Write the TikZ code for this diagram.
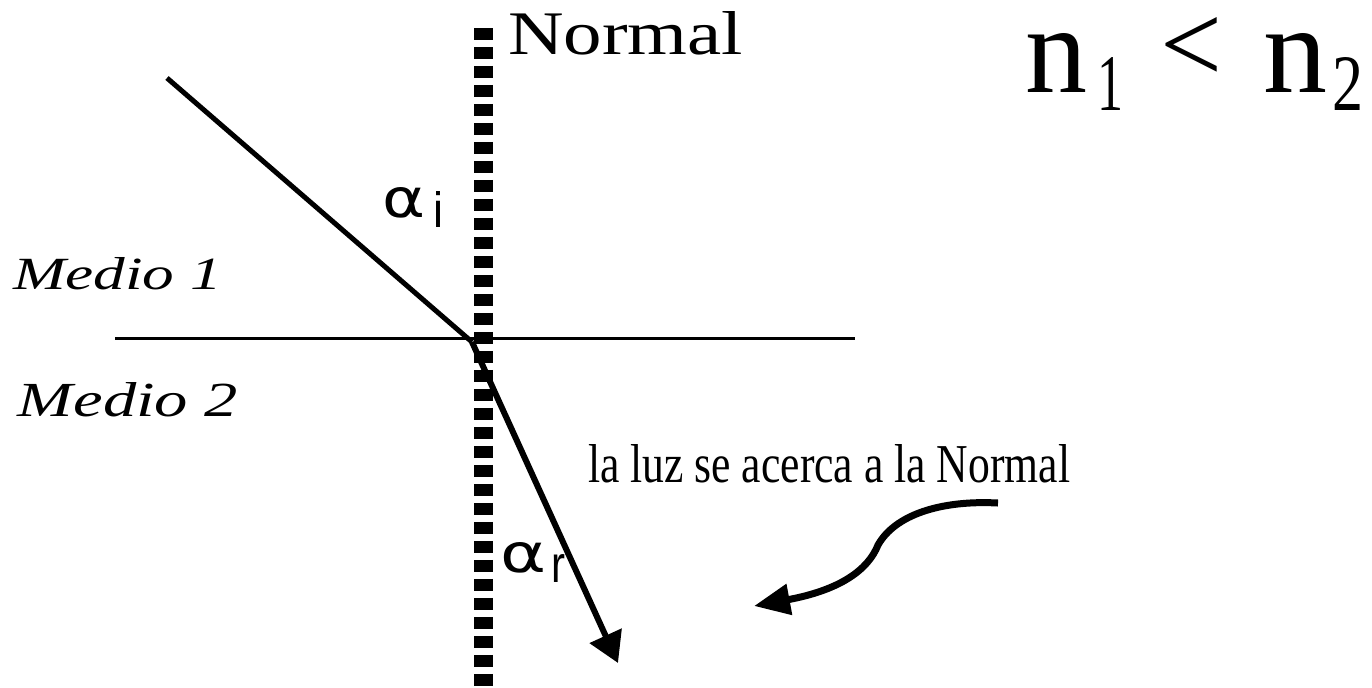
\documentclass[tikz,border=0pt]{standalone}
\usepackage{fontspec}
\setmainfont{Liberation Serif}
\newfontfamily\greekfont{DejaVu Sans}
\newfontfamily\sansfont{Liberation Sans}
\usetikzlibrary{arrows.meta}
\newlength\pxu
\setlength\pxu{0.02cm}
\newcommand\fitbox[3]{\resizebox{#1\pxu}{#2\pxu}{#3}}
\tikzset{
  lbl/.style={inner sep=0pt, outer sep=0pt, anchor=south west},
  normalline/.style={line width=0.38cm, dash pattern=on 0.24cm off 0.14cm, line cap=butt},
  surface/.style={line width=0.06cm},
  ray/.style={line width=0.1cm},
  refr/.style={line width=0.12cm, -{Triangle[length=0.6cm, width=0.68cm]}},
  curvearrow/.style={line width=0.14cm, -{Triangle[length=0.72cm, width=0.6cm]}}
}
\begin{document}
\begin{tikzpicture}[x=0.02cm, y=-0.02cm]
\useasboundingbox (0,0) rectangle (1372,687);
% coordinates
\coordinate (ntop) at (483,28);
\coordinate (nbot) at (483,687);
\coordinate (sl) at (115,338);
\coordinate (sr) at (855,338);
\coordinate (src) at (167,78);
\coordinate (O) at (472,342);
\coordinate (tip) at (618,663);
\coordinate (cstart) at (998,503);
\coordinate (ctip) at (754,606);
% normal
\draw[normalline] (ntop) -- (nbot);
% surface
\draw[surface] (sl) -- (sr);
% rays
\draw[ray] (src) -- (O);
\draw[refr] (O) -- (tip);
% curved arrow
\draw[curvearrow] (cstart) .. controls (940,500) and (895,515) .. (878,545)
   .. controls (868,570) and (840,590) .. (ctip);
% labels
\node[lbl] (normal) at (508,55) {\fitbox{235}{43}{Normal}};
\node[lbl] (note) at (588,483) {\fitbox{482}{38}{la luz se acerca a la Normal}};
\node[lbl] (m1) at (13,290) {\fitbox{209}{32}{\itshape Medio 1}};
\node[lbl] (m2) at (18,417) {\fitbox{220}{34}{\itshape Medio 2}};
% alpha labels
\node[lbl] (ai) at (382,218) {\fitbox{43}{30}{\greekfont α}};
\node[lbl] (ais) at (433,227) {\fitbox{10}{36}{\sansfont i}};
\node[lbl] (ar) at (500,573) {\fitbox{46}{30}{\greekfont α}};
\node[lbl] (ars) at (551,582) {\fitbox{14}{28}{\sansfont r}};
% n1 < n2
\node[lbl] (n1) at (1025,92) {\fitbox{62}{59}{n}};
\node[lbl] (s1) at (1097,110) {\fitbox{26}{53}{1}};
\node[inner sep=0pt] (lt) at (1191,50) {\fitbox{62}{65}{<}};
\node[lbl] (n2) at (1263,92) {\fitbox{64}{59}{n}};
\node[lbl] (s2) at (1332,110) {\fitbox{31}{53}{2}};
\end{tikzpicture}
\end{document}
